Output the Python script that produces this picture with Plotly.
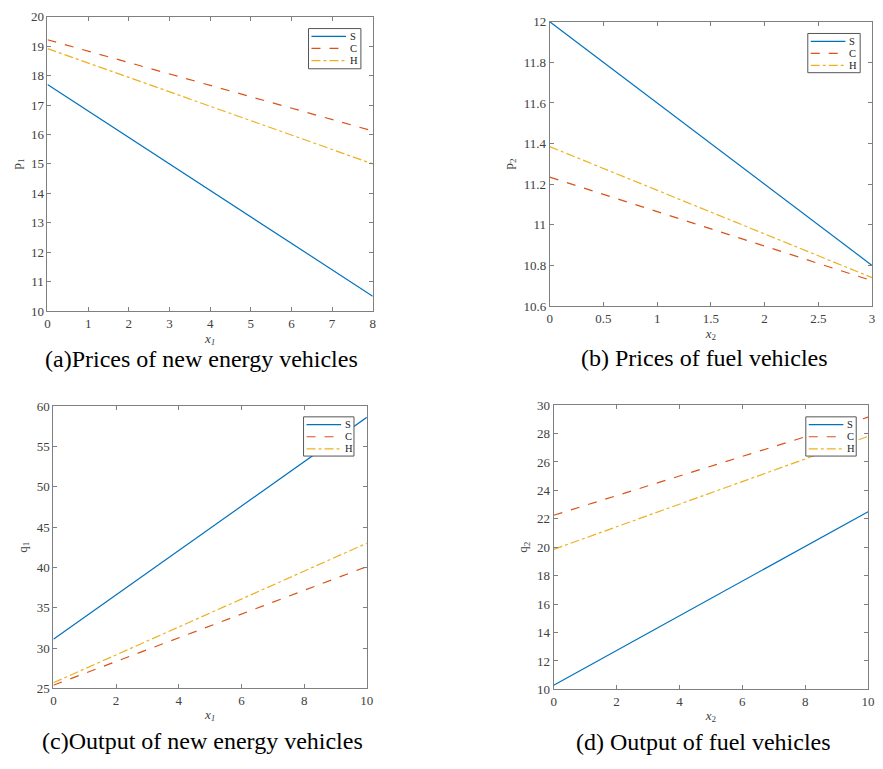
import plotly.graph_objects as go

# ---- data ----
x_a = [0, 8]
a_S = [17.70, 10.50]
a_C = [19.22, 16.12]
a_H = [18.92, 15.00]

x_b = [0, 3]
b_S = [12.00, 10.80]
b_C = [11.235, 10.725]
b_H = [11.385, 10.740]

x_c = [0, 10]
c_S = [31.1, 58.6]
c_C = [25.4, 40.1]
c_H = [25.7, 43.0]

x_d = [0, 10]
d_S = [10.3, 22.5]
d_C = [22.25, 29.15]
d_H = [19.85, 27.8]

series_names = ["S", "C", "H"]
captions = ["(a)Prices of new energy vehicles", "(b) Prices of fuel vehicles",
            "(c)Output of new energy vehicles", "(d) Output of fuel vehicles"]

colors = ["#0072BD", "#D95319", "#EDB120"]
dashes = ["solid", "dash", "dashdot"]

W, H = 883, 769
FONT = "Liberation Serif, Times New Roman, serif"
AX = "#7f7f7f"
TXT = "#404040"

# panel pixel boxes: (x0, x1, ytop, ybottom)
boxes = [(45, 374, 10, 310), (553, 879, 15, 305), (51, 368, 407, 695), (557, 875, 406, 696)]
panels = [
    (x_a, [a_S, a_C, a_H], [0, 8], 1, [10, 20], 1, "<i>x</i><sub><i>1</i></sub>", "p<sub>1</sub>"),
    (x_b, [b_S, b_C, b_H], [0, 3], 0.5, [10.6, 12], 0.2, "<i>x</i><sub>2</sub>", "p<sub>2</sub>"),
    (x_c, [c_S, c_C, c_H], [0, 10], 2, [25, 60], 5, "<i>x</i><sub><i>1</i></sub>", "q<sub>1</sub>"),
    (x_d, [d_S, d_C, d_H], [0, 10], 2, [10, 30], 2, "<i>x</i><sub>2</sub>", "q<sub>2</sub>"),
]
# legend boxes (pixels): x0, y0, x1, y1
legend_boxes = [(309, 22, 362, 63), (814, 27, 867, 67), (304, 418, 355, 458), (812, 418, 863, 458)]
caption_pos = [(201, 359), (710, 358), (202, 749), (709, 750)]


def px(x):
    return x / W


def py(y):
    return 1 - y / H


fig = go.Figure()
shapes, annotations = [], []
layout = dict(width=W, height=H, margin=dict(l=0, r=0, t=0, b=0),
              paper_bgcolor="white", plot_bgcolor="white", showlegend=False,
              font=dict(family=FONT, color=TXT, size=12))

for i, (xv, ys, xr, xd, yr, yd, xt, yt) in enumerate(panels):
    k = "" if i == 0 else str(i + 1)
    for j in range(3):
        fig.add_trace(go.Scatter(x=xv, y=ys[j], mode="lines", name=series_names[j],
                                 line=dict(color=colors[j], width=1.2, dash=dashes[j]),
                                 xaxis="x" + k, yaxis="y" + k))
    x0, x1, yt0, yb0 = boxes[i]
    common = dict(showline=True, linecolor=AX, linewidth=1, mirror="ticks",
                  ticks="inside", ticklen=4, tickcolor=AX, showgrid=False, zeroline=False,
                  ticklabeloverflow="allow",
                  tickfont=dict(family=FONT, size=13, color=TXT))
    layout["xaxis" + k] = dict(common, domain=[px(x0), px(x1)], range=xr, dtick=xd, tick0=0,
                               anchor="y" + k,
                               title=dict(text=xt, standoff=2, font=dict(family=FONT, size=13, color=TXT)))
    layout["yaxis" + k] = dict(common, domain=[py(yb0), py(yt0)], range=yr, dtick=yd,
                               tick0=yr[0], anchor="x" + k,
                               title=dict(text=yt, standoff=6, font=dict(family=FONT, size=13, color=TXT)))

    # legend box (MATLAB style, inside top-right)
    lx0, ly0, lx1, ly1 = legend_boxes[i]
    shapes.append(dict(type="rect", xref="paper", yref="paper",
                       x0=px(lx0), x1=px(lx1), y0=py(ly1), y1=py(ly0),
                       line=dict(color="#555555", width=1), fillcolor="white", layer="above"))
    for j in range(3):
        ry = ly0 + 8 + j * 12.3
        shapes.append(dict(type="line", xref="paper", yref="paper",
                           x0=px(lx0 + 3), x1=px(lx0 + 38), y0=py(ry), y1=py(ry),
                           line=dict(color=colors[j], width=1.2, dash=dashes[j]), layer="above"))
        annotations.append(dict(text=series_names[j], x=px(lx0 + 41), y=py(ry),
                                xref="paper", yref="paper", showarrow=False,
                                xanchor="left", yanchor="middle", borderpad=0,
                                font=dict(family=FONT, size=10.5, color="#222222")))

    cx, cy = caption_pos[i]
    annotations.append(dict(text=captions[i], x=px(cx), y=py(cy),
                            xref="paper", yref="paper", showarrow=False,
                            xanchor="center", yanchor="middle", borderpad=0,
                            font=dict(family=FONT, size=24, color="black")))

layout["shapes"] = shapes
layout["annotations"] = annotations
fig.update_layout(**layout)
fig.write_html("out.html", config={"displayModeBar": False},
               post_script="document.body.style.margin='0px';document.body.style.overflow='hidden';")
